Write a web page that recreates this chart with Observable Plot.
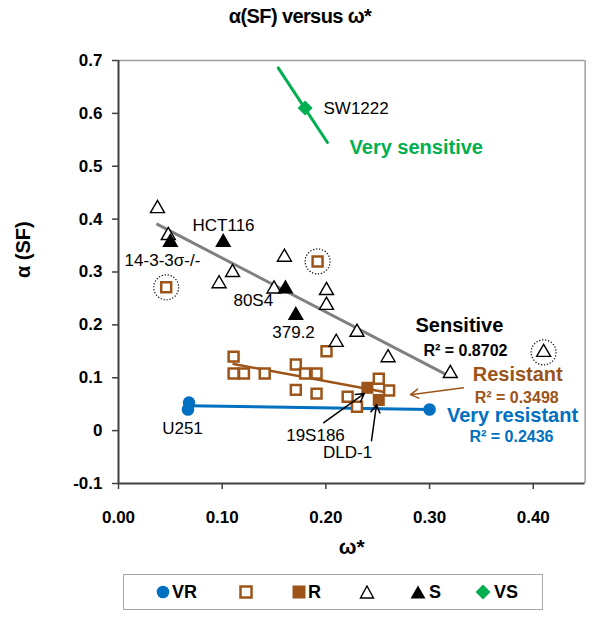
<!DOCTYPE html>
<html><head><meta charset="utf-8">
<script src="https://cdn.jsdelivr.net/npm/d3@7"></script>
<script src="https://cdn.jsdelivr.net/npm/@observablehq/plot@0.6"></script>
<style>
body{margin:0;background:#fff;}
#wrap{position:relative;width:600px;height:626px;font-family:"Liberation Sans",Arial,sans-serif;overflow:hidden;}
#chart{position:absolute;left:0;top:0;}
#title{position:absolute;left:0;top:5px;width:600px;text-align:center;font-weight:bold;font-size:20px;color:#000;letter-spacing:-0.6px;}
#legend{position:absolute;left:123px;top:574px;width:418px;height:34px;border:1.5px solid #a6a6a6;background:#fff;}
.li{position:absolute;top:0;height:34px;line-height:34px;font-weight:bold;font-size:18px;}
.li svg{position:absolute;top:10px;left:0;}
.li span{position:absolute;left:16px;top:0;}
</style></head><body>
<div id="wrap"><div id="chart"></div><div id="title">α(SF) versus ω*</div><div id="legend"></div></div>
<script>
// tick values
const xTicks = [0, 0.1, 0.2, 0.3, 0.4];
const yTicks = [-0.1, 0, 0.1, 0.2, 0.3, 0.4, 0.5, 0.6, 0.7];

// VR (very resistant) - filled blue circles
const vrOmega = [0.068, 0.067, 0.300];
const vrAlpha = [0.053, 0.040, 0.040];
// R open squares
const rOpenOmega = [0.111, 0.111, 0.121, 0.141, 0.171, 0.180, 0.191, 0.171, 0.191, 0.2006, 0.221, 0.230, 0.251, 0.261, 0.192, 0.046];
const rOpenAlpha = [0.140, 0.108, 0.108, 0.108, 0.125, 0.108, 0.108, 0.077, 0.070, 0.150, 0.064, 0.045, 0.098, 0.076, 0.320, 0.271];
// R filled squares
const rOmega = [0.240, 0.251];
const rAlpha = [0.081, 0.058];
// S open triangles
const sOpenOmega = [0.0376, 0.048, 0.097, 0.110, 0.160, 0.150, 0.2006, 0.2006, 0.210, 0.230, 0.260, 0.320, 0.410];
const sOpenAlpha = [0.420, 0.369, 0.278, 0.299, 0.328, 0.268, 0.265, 0.237, 0.167, 0.186, 0.138, 0.108, 0.148];
// S filled triangles
const sOmega = [0.050, 0.101, 0.161, 0.171];
const sAlpha = [0.356, 0.356, 0.268, 0.218];
// VS diamond
const vsOmega = [0.180];
const vsAlpha = [0.610];
// dotted-circled points
const circledOmega = [0.046, 0.192, 0.410];
const circledAlpha = [0.271, 0.320, 0.148];

// trend lines (end points)
const fitGroup = ["VS", "VS", "S", "S", "R", "R", "VR", "VR"];
const fitOmega = [0.154, 0.2015, 0.0376, 0.318, 0.111, 0.255, 0.068, 0.300];
const fitAlpha = [0.686, 0.545, 0.390, 0.104, 0.126, 0.0736, 0.047, 0.040];

// arrows
const arrowGroup = ["k", "k", "R"];
const arrowFromOmega = [0.198, 0.244, 0.3327];
const arrowFromAlpha = [0.015, -0.019, 0.081];
const arrowToOmega = [0.237, 0.2488, 0.2816];
const arrowToAlpha = [0.070, 0.049, 0.068];

// cell line labels
const cellLabels = ["SW1222", "HCT116", "14-3-3σ-/-", "80S4", "379.2", "U251", "19S186", "DLD-1"];
const cellOmega = [0.1977, 0.1013, 0.0424, 0.130, 0.1688, 0.0617, 0.190, 0.221];
const cellAlpha = [0.610, 0.388, 0.322, 0.246, 0.186, 0.004, -0.009, -0.042];
const cellAnchor = ["start", "middle", "middle", "middle", "middle", "middle", "middle", "middle"];

// group annotations
const noteText = ["Very sensitive", "Sensitive", "R² = 0.8702", "Resistant", "R² = 0.3498", "Very resistant", "R² = 0.2436"];
const noteGroup = ["VS", "S", "S", "R", "R", "VR", "VR"];
const noteSize = [20, 20, 16, 20, 16, 20, 16];
const noteOmega = [0.2228, 0.3288, 0.3346, 0.385, 0.384, 0.380, 0.379];
const noteAlpha = [0.536, 0.199, 0.150, 0.106, 0.0625, 0.028, -0.011];
const noteAnchor = ["start", "middle", "middle", "middle", "middle", "middle", "middle"];

const legendItems = ["VR", "", "R", "", "S", "VS"];

const colors = {VR: "#0070c0", R: "#9c5418", S: "#808080", VS: "#00b050", k: "#000"};
const textColors = {VR: "#0070c0", R: "#9c5418", S: "#000", VS: "#00b050"};

const pts = (xs, ys) => xs.map((x, i) => ({x, y: ys[i]}));
const fits = fitOmega.map((x, i) => ({x, y: fitAlpha[i], g: fitGroup[i]}));
const arrows = arrowFromOmega.map((x1, i) => ({x1, y1: arrowFromAlpha[i], x2: arrowToOmega[i], y2: arrowToAlpha[i], g: arrowGroup[i]}));
const cells = cellLabels.map((t, i) => ({t, x: cellOmega[i], y: cellAlpha[i], a: cellAnchor[i]}));
const notes = noteText.map((t, i) => ({t, g: noteGroup[i], s: noteSize[i], x: noteOmega[i], y: noteAlpha[i], a: noteAnchor[i]}));

const fmtY = d => d === 0 ? "0" : (d < 0 ? "-" : "") + Math.abs(d).toFixed(1);
const fmtX = d => d.toFixed(2);
const brown = colors.R;

const textMarks = (rows, opts) => ["start", "middle"].map(a =>
  Plot.text(rows.filter(d => d.a === a), {x: "x", y: "y", text: "t", textAnchor: a, ...opts}));

const marks = [
  Plot.ruleY([0.7], {stroke: "#a0a0a0", strokeWidth: 1.5}),
  Plot.ruleX([0.45], {stroke: "#a0a0a0", strokeWidth: 1.5}),
  Plot.ruleX([0], {stroke: "#404040", strokeWidth: 2}),
  Plot.ruleY([-0.1], {stroke: "#404040", strokeWidth: 2}),
  Plot.axisY({ticks: yTicks, tickFormat: fmtY, tickSize: 6, tickPadding: 10, fontSize: 17, fontWeight: "bold", stroke: "#404040", strokeWidth: 1.5, color: "#000", label: null}),
  Plot.axisX({ticks: xTicks, tickFormat: fmtX, tickSize: 6, tickPadding: 21, fontSize: 17, fontWeight: "bold", stroke: "#404040", strokeWidth: 1.5, color: "#000", label: null}),
  Plot.text(["α (SF)"], {frameAnchor: "left", dx: -95, dy: 6, rotate: -90, fontSize: 20, fontWeight: "bold", fill: "#000"}),
  Plot.text(["ω*"], {frameAnchor: "bottom", dy: 70, fontSize: 21, fontWeight: "bold", fill: "#000"}),
  Plot.line(fits, {x: "x", y: "y", z: "g", stroke: d => colors[d.g], strokeWidth: d => d.g === "R" ? 2.5 : 3}),
  Plot.dot(pts(vrOmega, vrAlpha), {x: "x", y: "y", r: 6.3, fill: colors.VR, stroke: "none"}),
  Plot.dot(pts(rOpenOmega, rOpenAlpha), {x: "x", y: "y", symbol: "square", r: 5.6, fill: "#fff", stroke: brown, strokeWidth: 2.5}),
  Plot.dot(pts(rOmega, rAlpha), {x: "x", y: "y", symbol: "square", r: 6.8, fill: brown, stroke: "none"}),
  Plot.dot(pts(sOpenOmega, sOpenAlpha), {x: "x", y: "y", symbol: "triangle", r: 5.2, fill: "#fff", stroke: "#000", strokeWidth: 1.4}),
  Plot.dot(pts(sOmega, sAlpha), {x: "x", y: "y", symbol: "triangle", r: 6, fill: "#000", stroke: "none"}),
  Plot.dot(pts(vsOmega, vsAlpha), {x: "x", y: "y", symbol: "square", rotate: 45, r: 6, fill: colors.VS, stroke: "none"}),
  Plot.dot(pts(circledOmega, circledAlpha), {x: "x", y: "y", r: 12.5, fill: "none", stroke: "#000", strokeWidth: 1.2, strokeDasharray: "1.2,1.8"}),
  Plot.arrow(arrows, {x1: "x1", y1: "y1", x2: "x2", y2: "y2", stroke: d => colors[d.g], strokeWidth: 1.5, headLength: 9}),
  ...textMarks(cells, {fontSize: 17, fill: "#000"}),
  ...textMarks(notes, {fontSize: d => d.s, fontWeight: "bold", fill: d => textColors[d.g]})
];

const chart = Plot.plot({
  width: 600, height: 626,
  marginTop: 60, marginLeft: 118, marginRight: 15.4, marginBottom: 143,
  style: {fontFamily: "'Liberation Sans', Arial, sans-serif", background: "transparent", overflow: "visible"},
  x: {domain: [0, 0.45], axis: null},
  y: {domain: [-0.1, 0.7], axis: null},
  marks
});
document.getElementById("chart").appendChild(chart);

// legend
const leg = document.getElementById("legend");
const legLeft = [32, 115, 168, 235, 286, 351];
const legSym = [
  `<svg width="14" height="14"><circle cx="7" cy="7" r="6.3" fill="${colors.VR}"/></svg>`,
  `<svg width="14" height="14"><rect x="1.5" y="1.5" width="11" height="11" fill="#fff" stroke="${brown}" stroke-width="2.5"/></svg>`,
  `<svg width="14" height="14"><rect x="0.5" y="0.5" width="13" height="13" fill="${brown}"/></svg>`,
  `<svg width="16" height="14"><path d="M8,1 L14.5,13 L1.5,13 Z" fill="#fff" stroke="#000" stroke-width="1.4"/></svg>`,
  `<svg width="16" height="14"><path d="M8,0.5 L15.5,13.5 L0.5,13.5 Z" fill="#000"/></svg>`,
  `<svg width="16" height="16" style="top:9px"><path d="M8,0.5 L15.5,8 L8,15.5 L0.5,8 Z" fill="${colors.VS}"/></svg>`
];
legendItems.forEach((t, i) => {
  const d = document.createElement("div");
  d.className = "li";
  d.style.left = legLeft[i] + "px";
  d.innerHTML = legSym[i] + (t ? `<span style="left:${i===5?19:i===4?19:16}px">${t}</span>` : "");
  leg.appendChild(d);
});
</script>
</body></html>
